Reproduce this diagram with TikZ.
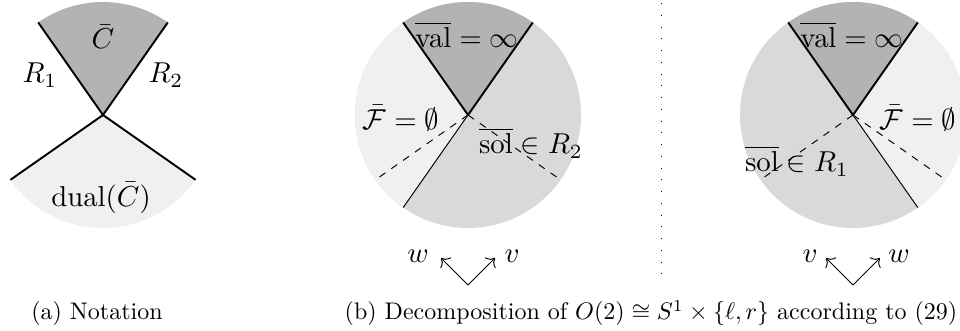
\documentclass[tikz,border=0pt]{standalone}
\usepackage{amsmath,amssymb}
\usetikzlibrary{arrows.meta}
\definecolor{conegray}{RGB}{179,179,179}
\definecolor{midgray}{RGB}{217,217,217}
\definecolor{palegray}{RGB}{240,240,240}
\tikzset{
  edge/.style={thick, black},
  cut/.style={thin, black},
  dualcut/.style={thin, black, dashed},
  frame/.style={-{To[scale=1.2]}, thin},
  tag/.style={scale=1.2, transform shape}
}
\newcommand{\conerad}{113}

\begin{document}
\begin{tikzpicture}[x=0.41667pt, y=0.41667pt]
        \useasboundingbox (0,0) rectangle (960,330);

        % (a) Notation
        \coordinate (apexA) at (103,215);
        \fill[conegray] (apexA) -- ++(55:\conerad) arc[start angle=55, end angle=125, radius=\conerad] -- cycle;
        \fill[palegray] (apexA) -- ++(215:\conerad) arc[start angle=215, end angle=325, radius=\conerad] -- cycle;
        \draw[edge] (apexA) -- ++(55:\conerad);
        \draw[edge] (apexA) -- ++(125:\conerad);
        \draw[edge] (apexA) -- ++(215:\conerad);
        \draw[edge] (apexA) -- ++(325:\conerad);
        \node[tag] (coneA) at (103,293) {$\bar{C}$};
        \node[tag] (rA) at (40,255) {$R_1$};
        \node[tag] (rB) at (166,255) {$R_2$};
        \node[tag] (dualA) at (101,132) {$\mathrm{dual}(\bar{C})$};

        % (b) left circle
        \coordinate (apexB) at (468,215);
        \fill[midgray] (apexB) circle (\conerad);
        \fill[palegray] (apexB) -- ++(125:\conerad) arc[start angle=125, end angle=235, radius=\conerad] -- cycle;
        \fill[conegray] (apexB) -- ++(55:\conerad) arc[start angle=55, end angle=125, radius=\conerad] -- cycle;
        \draw[edge] (apexB) -- ++(55:\conerad);
        \draw[edge] (apexB) -- ++(125:\conerad);
        \draw[cut] (apexB) -- ++(235:\conerad);
        \draw[dualcut] (apexB) -- ++(215:\conerad);
        \draw[dualcut] (apexB) -- ++(325:\conerad);
        \node[tag] (valB) at (467,295) {$\overline{\mathrm{val}} = \infty$};
        \node[tag] (feasB) at (401,212) {$\bar{\mathcal{F}} = \emptyset$};
        \node[tag] (solB) at (531,187) {$\overline{\mathrm{sol}} \in R_2$};

        % (b) right circle
        \coordinate (apexC) at (853,215);
        \fill[midgray] (apexC) circle (\conerad);
        \fill[palegray] (apexC) -- ++(-55:\conerad) arc[start angle=-55, end angle=55, radius=\conerad] -- cycle;
        \fill[conegray] (apexC) -- ++(55:\conerad) arc[start angle=55, end angle=125, radius=\conerad] -- cycle;
        \draw[edge] (apexC) -- ++(55:\conerad);
        \draw[edge] (apexC) -- ++(125:\conerad);
        \draw[cut] (apexC) -- ++(-55:\conerad);
        \draw[dualcut] (apexC) -- ++(215:\conerad);
        \draw[dualcut] (apexC) -- ++(325:\conerad);
        \node[tag] (valC) at (852,295) {$\overline{\mathrm{val}} = \infty$};
        \node[tag] (feasC) at (918,212) {$\bar{\mathcal{F}} = \emptyset$};
        \node[tag] (solC) at (797,169) {$\overline{\mathrm{sol}} \in R_1$};

        % Separator
        \coordinate (sepTop) at (661,327);
        \coordinate (sepBot) at (661,47);
        \draw[dash pattern=on 0.4pt off 4.5pt] (sepTop) -- (sepBot);

        % Frames
        \coordinate (baseB) at (468,45);
        \coordinate (wtipB) at (441,72);
        \coordinate (vtipB) at (495,72);
        \draw[frame] (baseB) -- (wtipB);
        \draw[frame] (baseB) -- (vtipB);
        \node[tag] (wB) at (418,74) {$w$};
        \node[tag] (vB) at (512,74) {$v$};

        \coordinate (baseC) at (853,45);
        \coordinate (vtipC) at (826,72);
        \coordinate (wtipC) at (880,72);
        \draw[frame] (baseC) -- (vtipC);
        \draw[frame] (baseC) -- (wtipC);
        \node[tag] (vC) at (810,74) {$v$};
        \node[tag] (wC) at (899,74) {$w$};

        % Captions
        \node (capA) at (97,17) {(a) Notation};
        \node (capB) at (651,17) {(b) Decomposition of $O(2) \cong S^1 \times \{\ell, r\}$ according to (29)};
    \end{tikzpicture}
\end{document}
